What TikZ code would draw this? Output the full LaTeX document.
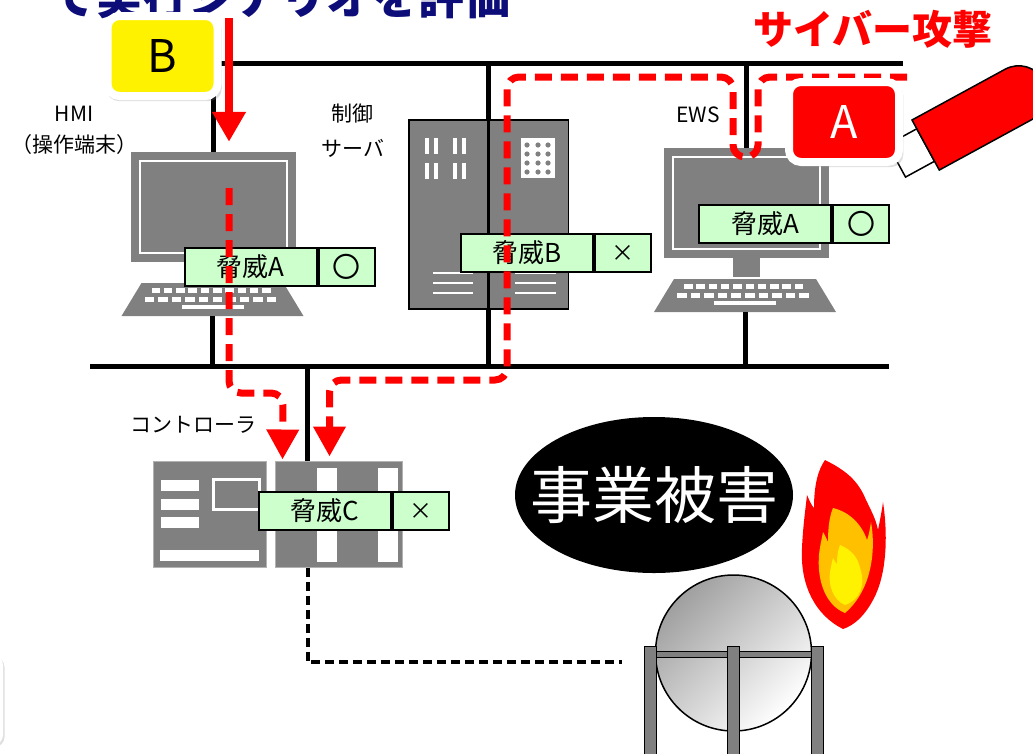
\documentclass[tikz,border=0pt]{standalone}
\usepackage{fontspec}
\setmainfont{Noto Sans CJK JP}
\usetikzlibrary{arrows.meta, positioning, shadows}

\definecolor{devgray}{HTML}{808080}
\definecolor{threatgreen}{HTML}{CCFFCC}
\definecolor{flameorange}{HTML}{FFC000}
\definecolor{titleblue}{HTML}{0D0D7A}

% keyboard with its top centre at #1, bottom centre named #2
\newcommand{\keyboard}[2]{%
  \begin{scope}[shift={#1}]
    \fill[devgray] (-71,0) -- (71,0) -- (91,33) -- (-91,33) -- cycle;
    \foreach \i in {0,...,9} {
      \fill[white] (-61+12.3*\i,5) rectangle ++(8.5,5);
      \fill[white] (-68+13.6*\i,14) rectangle ++(9.5,5);
    }
    \fill[white] (-31,22) rectangle (31,26);
    \coordinate (#2) at (0,33);
  \end{scope}}

% threat label: name, position, threat, result
\newcommand{\threat}[4]{%
  \node[threatcell, minimum width=132pt] (#1) at #2 {#3};
  \node[threatcell, minimum width=56pt, anchor=west] (#1r) at (#1.east) {#4};}

\begin{document}
\begin{tikzpicture}[x=1pt, y=-1pt,
  bus/.style={line width=5pt},
  field/.style={line width=4pt, dash pattern=on 9pt off 5pt},
  attack/.style={red, line width=7pt, dash pattern=on 17pt off 9pt, rounded corners=12pt,
    -{Triangle[width=31pt, length=30pt]}},
  attackhead/.style={red, line width=8pt, -{Triangle[width=32pt, length=30pt]}},
  devlabel/.style={font=\fontsize{21}{21}\selectfont, inner sep=0pt},
  screen/.style={fill=devgray, minimum width=165pt, minimum height=110pt, inner sep=0pt,
    path picture={\draw[white, line width=1.5pt]
      ([shift={(9pt,9pt)}]path picture bounding box.south west) rectangle
      ([shift={(-9pt,-9pt)}]path picture bounding box.north east);}},
  rack/.style={draw=black, line width=1.5pt, fill=devgray, minimum width=79pt,
    minimum height=189pt, inner sep=0pt},
  plc/.style={fill=devgray, draw=gray!60, line width=1pt, minimum height=106pt, inner sep=0pt},
  threatcell/.style={draw=black, line width=2pt, fill=threatgreen, minimum height=38pt,
    inner sep=0pt, font=\fontsize{26}{26}\selectfont},
  badge/.style={draw=white, line width=8pt, rounded corners=12pt, minimum width=110pt,
    minimum height=80pt, inner sep=0pt, font=\fontsize{45}{45}\selectfont,
    drop shadow={opacity=0.25, shadow xshift=1.5pt, shadow yshift=-3pt, shadow scale=1.05}},
  card/.style={fill=white, rounded corners=10pt,
    drop shadow={opacity=0.25, shadow xshift=1.5pt, shadow yshift=-2pt}}
]
\useasboundingbox (0,0) rectangle (1033,753);
\clip (0,0) rectangle (1033,753);

\node[anchor=base west, text=titleblue, inner sep=0pt,
  font=\fontsize{46}{46}\selectfont\bfseries] (title) at (50,14) {で実行シナリオを評価};
\node[card, minimum width=100pt, minimum height=90pt] (side) at (-47,700) {};

% network
\coordinate (topL) at (213,63);
\coordinate (topR) at (903,63);
\coordinate (botL) at (90,366);
\coordinate (botR) at (889,366);
\draw[bus] (topL) -- (topR);
\draw[bus] (botL) -- (botR);

% HMI
\node[screen] (hmi) at (213.5,207) {};
\keyboard{(212.5,283)}{hmikb}
\draw[bus] (hmi.north |- topL) -- (hmi.north);
\draw[bus] (hmikb) -- (hmikb |- botL);
\node[devlabel] (hmilbl) at (74,114) {HMI};
\node[devlabel] (hmisub) at (75,145) {（操作端末）};

% control server
\node[rack] (srvl) at (448.5,214.5) {};
\node[rack, anchor=west] (srvr) at (srvl.east) {};
\draw[bus] (srvl.north east |- topL) -- (srvl.north east);
\draw[bus] (srvl.south east) -- (srvl.south east |- botL);
\foreach \x in {425,434,453,462}
  \foreach \y in {138,163}
    \fill[white] (\x,\y) rectangle ++(4,16);
\fill[white] (521,138) rectangle (555,178);
\foreach \x in {527,538,548}
  \foreach \y in {145,154,163,172}
    \fill[devgray] (\x,\y) circle (2.6);
\foreach \y in {273,283,293} {
  \draw[white, line width=2.5pt] (433,\y) -- (473,\y);
  \draw[white, line width=2.5pt] (515,\y) -- (556,\y);
}
\node[devlabel] (srvlbl) at (352,114) {制御};
\node[devlabel] (srvsub) at (353,148) {サーバ};

% EWS
\node[screen] (ews) at (746.5,203) {};
\node[fill=devgray, minimum width=27pt, minimum height=19pt, inner sep=0pt,
  below=0pt of ews] (ewsneck) {};
\keyboard{(745,279)}{ewskb}
\draw[bus] (ews.north |- topL) -- (ews.north);
\draw[bus] (ewskb) -- (ewskb |- botL);
\node[devlabel] (ewslbl) at (698,115) {EWS};

% controller
\node[plc, minimum width=113pt] (ctrll) at (209.5,514) {};
\node[plc, minimum width=127pt] (ctrlr) at (338.5,514) {};
\foreach \y in {480,499,517}
  \fill[white] (161,\y) rectangle ++(38,11);
\draw[white, line width=3pt, fill=devgray] (213.5,479.5) rectangle (259.5,509.5);
\fill[white] (160,550) rectangle (259,561);
\fill[white] (317,468) rectangle (337,562);
\fill[white] (378,468) rectangle (398,562);
\coordinate (ctrlin) at ([xshift=33pt]ctrlr.north west);
\coordinate (ctrlout) at ([xshift=33pt]ctrlr.south west);
\draw[bus] (ctrlin |- botL) -- (ctrlin);
\node[devlabel] (ctrllbl) at (193,425) {コントローラ};

% field line to the tank
\coordinate (tankin) at (622,662);
\draw[field] (ctrlout) |- (tankin);

% threats
\threat{thhmi}{(250.5,267)}{脅威A}{\fontsize{28}{28}\selectfont 〇}
\threat{thsrv}{(527,253)}{脅威B}{\fontsize{23}{23}\selectfont ×}
\threat{thews}{(765,223.5)}{脅威A}{\fontsize{28}{28}\selectfont 〇}
\threat{thctrl}{(325,511)}{脅威C}{\fontsize{23}{23}\selectfont ×}

% business loss
\fill[black] (654,495) ellipse [x radius=139, y radius=78];
\node[text=white, font=\fontsize{62}{62}\selectfont, inner sep=0pt] (loss) at (654,495) {事業被害};

% tank
\node[circle, draw=black, line width=1.5pt, minimum size=156pt, inner sep=0pt,
  top color=gray!75, bottom color=white, shading angle=45] (tank) at (733.5,653) {};
\filldraw[fill=devgray, draw=black, line width=1pt] (656,651) rectangle (811,657);
\foreach \x in {644,727,811}
  \filldraw[fill=devgray, draw=black, line width=1pt] (\x,646) rectangle ++(12,120);

% fire
\fill[red] (843,629) .. controls (815,615) and (800,585) .. (802,548)
  .. controls (803,525) and (806,505) .. (807,495)
  .. controls (810,502) and (812,506) .. (814,508)
  .. controls (814,485) and (818,470) .. (825,460)
  .. controls (845,470) and (858,480) .. (866,500)
  .. controls (872,512) and (876,520) .. (878,530)
  .. controls (880,520) and (882,510) .. (883,502)
  .. controls (888,535) and (887,575) .. (873,600)
  .. controls (865,615) and (855,625) .. (843,629) -- cycle;
\fill[flameorange] (845,613) .. controls (825,605) and (817,580) .. (819,555)
  .. controls (820,545) and (822,538) .. (823,532)
  .. controls (826,537) and (827,540) .. (828,542)
  .. controls (828,525) and (830,515) .. (833,508)
  .. controls (850,512) and (862,525) .. (867,540)
  .. controls (869,535) and (870,528) .. (871,522)
  .. controls (876,550) and (872,590) .. (845,613) -- cycle;
\fill[yellow] (845,605) .. controls (833,600) and (828,585) .. (830,572)
  .. controls (831,566) and (832,562) .. (833,558)
  .. controls (835,562) and (836,563) .. (837,564)
  .. controls (837,556) and (838,550) .. (840,545)
  .. controls (852,550) and (858,558) .. (860,568)
  .. controls (866,585) and (860,600) .. (845,605) -- cycle;

% USB stick
\begin{scope}[shift={(912,120)}, rotate=28.6]
  \filldraw[fill=white, draw=black, line width=1.5pt] (-33,10) rectangle (0,47);
  \filldraw[fill=red, draw=black, line width=1.5pt] (0,0) -- (106,0)
    arc[start angle=-90, end angle=90, radius=28.5] -- (0,57) -- cycle;
\end{scope}

% attack paths
\coordinate (atkA) at (907,77);
\coordinate (ctrlhitA) at ([xshift=55pt]ctrlr.north west);
\draw[attack, shorten >=4pt] (atkA) -| (758,157) -| (733,77) -| (507,380) -| (ctrlhitA);

\coordinate (atkB) at (229,18);
\coordinate (hmiin) at ([xshift=15.5pt]hmi.north);
\draw[attackhead, shorten >=10pt] (atkB) -- (hmiin);
\coordinate (hmiout) at (229,188);
\coordinate (ctrlhitB) at ([xshift=8pt]ctrlr.north west);
\draw[attack, shorten >=1pt] (hmiout) |- (283,393) -- (ctrlhitB);

% scenario badges
\node[badge, fill=yellow] (bbadge) at (162.5,56) {B};
\node[badge, fill=red, text=white] (abadge) at (844,122) {A};
\node[text=red, inner sep=0pt, font=\fontsize{40}{40}\selectfont\bfseries] (cyber) at (873,29) {サイバー攻撃};
\end{tikzpicture}
\end{document}
